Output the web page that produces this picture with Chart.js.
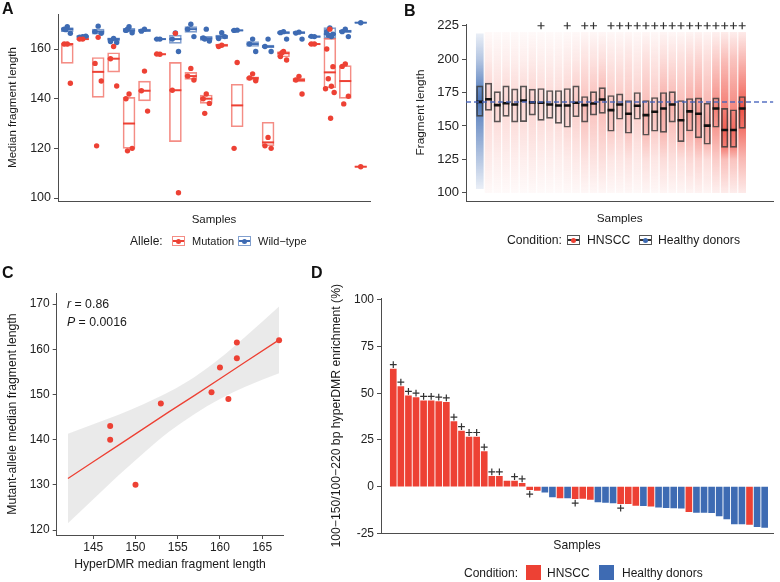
<!DOCTYPE html>
<html>
<head>
<meta charset="utf-8">
<title>Fragment length panels</title>
<script src="https://cdn.jsdelivr.net/npm/chart.js@4.4.1/dist/chart.umd.min.js"></script>
<style>
  html, body { margin: 0; padding: 0; background: #fff; }
  body { width: 780px; height: 582px; position: relative; overflow: hidden;
         font-family: "Liberation Sans", Arial, Helvetica, sans-serif; color: #1a1a1a; }
  canvas { position: absolute; }
  .tag { position: absolute; font-weight: bold; font-size: 16px; line-height: 16px; color: #111; }
  .txt { position: absolute; line-height: 16px; white-space: nowrap; }
  .boxkey { position: absolute; width: 13px; height: 10px; box-sizing: border-box; border: 1px solid; }
  .boxkey::before { content: ''; position: absolute; left: 0; right: 0; top: 3.3px; height: 1.5px; background: var(--line); }
  .boxkey::after { content: ''; position: absolute; left: 3px; top: 1.5px; width: 5px; height: 5px; border-radius: 50%; background: var(--dot); }
  .sq { position: absolute; width: 15px; height: 15px; }
</style>
</head>
<body>
<canvas id="chartA" width="390" height="227" style="left:0;top:0"></canvas>
<canvas id="chartB" width="390" height="227" style="left:390px;top:0"></canvas>
<canvas id="chartC" width="300" height="295" style="left:0;top:280px"></canvas>
<canvas id="chartD" width="480" height="302" style="left:300px;top:280px"></canvas>

<div class="tag" style="left:2px;top:1px">A</div>
<div class="tag" style="left:404px;top:3px">B</div>
<div class="tag" style="left:2px;top:265px">C</div>
<div class="tag" style="left:311px;top:265px">D</div>

<!-- legend A -->
<div class="txt" style="left:130px;top:233px;font-size:12px">Allele:</div>
<div class="boxkey" style="left:172px;top:236px;border-color:rgba(237,65,52,0.6);--line:#ED4134;--dot:#ED4134"></div>
<div class="txt" style="left:192px;top:233px;font-size:11px">Mutation</div>
<div class="boxkey" style="left:238px;top:236px;border-color:rgba(62,107,179,0.65);--line:#3E6BB3;--dot:#3E6BB3"></div>
<div class="txt" style="left:258px;top:233px;font-size:11px">Wild−type</div>

<!-- legend B -->
<div class="txt" style="left:507px;top:232px;font-size:12.2px">Condition:</div>
<div class="boxkey" style="left:567px;top:235px;border-color:#555;--line:#333;--dot:#ED4134"></div>
<div class="txt" style="left:587px;top:232px;font-size:12.2px">HNSCC</div>
<div class="boxkey" style="left:639px;top:235px;border-color:#555;--line:#333;--dot:#3E6BB3"></div>
<div class="txt" style="left:658px;top:232px;font-size:12.2px">Healthy donors</div>

<!-- panel C stats -->
<div class="txt" style="left:67px;top:296px;font-size:12.3px"><i>r</i> = 0.86</div>
<div class="txt" style="left:67px;top:314px;font-size:12.3px"><i>P</i> = 0.0016</div>

<!-- legend D -->
<div class="txt" style="left:464px;top:564.7px;font-size:12px">Condition:</div>
<div class="sq" style="left:526px;top:565px;background:#ED4134"></div>
<div class="txt" style="left:547px;top:564.7px;font-size:12px">HNSCC</div>
<div class="sq" style="left:599px;top:565px;background:#3E6BB3"></div>
<div class="txt" style="left:622px;top:564.7px;font-size:12px">Healthy donors</div>

<script>
// ---------- panel A: median fragment length per sample, by allele ----------
const samplesA = [1, 2, 3, 4, 5, 6, 7, 8, 9, 10, 11, 12, 13, 14, 15, 16, 17, 18, 19, 20];
const mutQ1  = [154.2, 163.8, 140.5, 150.7, 120, 139.1, 157.8, 122.7, 147.8, 138.1, 161, 128.7, 147.5, 121, 156.8, 146.8, 161.9, 144.4, 140.1, 112.5];
const mutMed = [162, 164, 150.8, 156.1, 130, 143.2, 157.9, 143.4, 149.1, 140, 161.5, 137.3, 148.3, 122.4, 158.3, 147.5, 162, 150.6, 147.1, 112.6];
const mutQ3  = [161.6, 164.3, 156.6, 158.5, 140.5, 147.1, 158.1, 154.6, 150.6, 141.5, 162, 145.8, 148.8, 130.5, 159, 148.3, 162.1, 164.3, 153.3, 112.7];
const mutPts = [[162, 162, 146.2], [164, 164], [164.7, 154.2, 147.1, 121], [161, 156.1, 145.1], [141.9, 140, 120, 119],
  [151.1, 143.2, 135], [157.9, 158], [166.3, 143.4, 102.1], [152.2, 149.1, 147.5], [141.9, 140, 138.1, 134.1],
  [161.5, 161], [154.6, 120], [150, 148.3, 147.2], [124.4, 121, 120], [159, 157, 155.6, 158.5],
  [149, 147.5, 141.9], [162, 162], [168, 160, 152.9, 148, 145, 144, 142.5, 132.1], [154, 153, 141, 137.9], [112.6]];
const wtQ1  = [167, 164.6, 166, 163.2, 166.8, 167, 163.9, 162.3, 166.7, 163.5, 164.2, 167.3, 161, 160.5, 166.1, 166.2, 164.7, 164.3, 166.6, 170.5];
const wtMed = [168, 165, 167, 164, 167.5, 167.5, 164, 164, 168, 164.3, 165, 167.5, 162, 161, 166.6, 166.6, 165, 166, 167.2, 170.6];
const wtQ3  = [168.6, 165.4, 168, 164.5, 168.3, 168, 164.1, 165.6, 169, 165.1, 165.6, 167.7, 163, 161.6, 167, 167, 165.3, 168.6, 167.6, 170.7];
const wtPts = [[169, 168, 166.3, 167.8], [165, 164.8, 165.2], [169.2, 167, 166.3], [164.3, 163, 162.6], [169, 167.5, 166.5, 168],
  [168, 167.2], [164, 164], [166.5, 164, 159], [170, 168, 165], [168, 164.5, 163.2, 164],
  [166.6, 164.2, 165], [167.6, 167.5], [164, 162, 159], [164, 161, 159], [167, 166.6, 164],
  [166.8, 166.4, 164], [165, 165.1], [168.5, 167, 166, 165.5, 165], [168, 167, 165], [170.6]];
const ticksA = [100, 120, 140, 160];

// ---------- panel B: fragment length distribution per sample ----------
const condB  = ['Healthy donors', 'HNSCC', 'HNSCC', 'HNSCC', 'HNSCC', 'HNSCC', 'HNSCC', 'HNSCC', 'HNSCC', 'HNSCC', 'HNSCC',
  'HNSCC', 'HNSCC', 'HNSCC', 'HNSCC', 'HNSCC', 'HNSCC', 'HNSCC', 'HNSCC', 'HNSCC', 'HNSCC',
  'HNSCC', 'HNSCC', 'HNSCC', 'HNSCC', 'HNSCC', 'HNSCC', 'HNSCC', 'HNSCC', 'HNSCC', 'HNSCC'];
const q1B  = [157.1, 161.6, 152.9, 157.1, 152.9, 153.2, 158.1, 154.2, 155.6, 151.9, 149.0, 156.9, 152.9, 158.1, 159.4, 146.0,
  155.0, 144.5, 155.0, 143.0, 146.0, 145.2, 152.9, 138.3, 146.2, 141.0, 136.3, 149.0, 134.0, 134.0, 148.2];
const medB = [168, 170, 165.6, 167, 166, 169, 167.6, 167.3, 166, 165.3, 165.3, 167.3, 165.6, 166.8, 169.8, 161.8,
  166, 159.1, 165.1, 158.1, 160.6, 163.1, 166, 154.2, 160.9, 159.1, 150.2, 163.1, 147, 147, 163.1];
const q3B  = [180, 182, 175.7, 180, 177.7, 180, 177.5, 178, 176.5, 176.5, 178, 180, 172, 175.7, 178.7, 172.8,
  174, 169, 175, 169, 171.3, 175, 175.7, 169, 170.5, 171, 167, 171, 163.1, 162.1, 172];
// relative number of fragments (visual density of the jittered reads)
const densityB = [1.0, 0.35, 0.3, 0.3, 0.3, 0.3, 0.35, 0.3, 0.3, 0.3, 0.35, 0.4, 0.5, 0.5, 0.55, 0.45,
  0.45, 0.5, 0.4, 0.55, 0.45, 0.6, 0.55, 0.55, 0.65, 0.7, 0.6, 0.8, 0.95, 0.9, 1.0];
const sigB = [false, false, false, false, false, false, false, true, false, false, true, false, true, true, false, true,
  true, true, true, true, true, true, true, true, true, true, true, true, true, true, true];
const readRangeHN = [100, 220];
const readRangeHD = [103, 219];
const healthyMedian = 168;
const ticksB = [100, 125, 150, 175, 200, 225];

// ---------- panel C: mutant-allele vs hyperDMR median ----------
const hyperX = [147, 147, 150, 153, 159, 160, 161, 162, 162, 167];
const mutantY = [143, 140, 130, 148, 150.5, 156, 149, 158, 161.5, 162];
const fitX = [142, 145, 148, 151, 154, 157, 160, 163, 167];
const fitY = [131.4, 135.1, 138.8, 142.5, 146.2, 149.8, 153.5, 157.2, 162.1];
const ciLow  = [121.5, 126.8, 132.1, 137.1, 141.8, 145.7, 149.0, 151.7, 154.7];
const ciHigh = [141.3, 143.4, 145.5, 147.9, 150.6, 153.9, 158.0, 162.8, 169.5];
const ticksCx = [145, 150, 155, 160, 165];
const ticksCy = [120, 130, 140, 150, 160, 170];

// ---------- panel D: hyperDMR short-fragment enrichment ----------
const enrich = [63, 53.6, 48.6, 47.7, 46, 45.9, 45.5, 45.2, 34.8, 29.8, 26.6, 26.6, 18.75, 5.5, 5.5, 3, 3, 1.8,
  -1.6, -2, -3, -5.5, -6, -6.1, -6.4, -6.25, -6.8, -8.2, -8.4, -8.75, -9.1, -9.1, -10, -10.2, -10.5,
  -11, -11.3, -11.4, -11.6, -13.4, -13.75, -13.75, -13.9, -15.7, -17.3, -20, -20, -20.2, -21.4, -21.8];
const condD = ['HNSCC', 'HNSCC', 'HNSCC', 'HNSCC', 'HNSCC', 'HNSCC', 'HNSCC', 'HNSCC', 'HNSCC', 'HNSCC',
  'HNSCC', 'HNSCC', 'HNSCC', 'HNSCC', 'HNSCC', 'HNSCC', 'HNSCC', 'HNSCC', 'HNSCC', 'HNSCC',
  'Healthy donors', 'Healthy donors', 'HNSCC', 'Healthy donors', 'HNSCC', 'HNSCC', 'HNSCC', 'Healthy donors', 'Healthy donors', 'Healthy donors',
  'HNSCC', 'HNSCC', 'HNSCC', 'Healthy donors', 'HNSCC', 'Healthy donors', 'Healthy donors', 'Healthy donors', 'Healthy donors', 'HNSCC',
  'Healthy donors', 'Healthy donors', 'Healthy donors', 'Healthy donors', 'Healthy donors', 'Healthy donors', 'Healthy donors', 'HNSCC', 'Healthy donors', 'Healthy donors'];
const sigD = [true, true, true, true, true, true, true, true, true, true, true, true, true, true, true, false, true, true, true, false,
  false, false, false, false, true, false, false, false, false, false, true, false, false, false, false, false, false, false, false, false,
  false, false, false, false, false, false, false, false, false, false];
const ticksD = [-25, 0, 25, 50, 75, 100];

// ---------- shared look ----------
const RED = '#ED4134', BLUE = '#3E6BB3', AXIS = '#4d4d4d';
Chart.defaults.font.family = '"Liberation Sans", Arial, Helvetica, sans-serif';
Chart.defaults.color = '#222';
Chart.defaults.animation = false;
Chart.defaults.events = [];
Chart.defaults.plugins.legend.display = false;
Chart.defaults.plugins.tooltip.enabled = false;

function yAxis(min, max, ticks, title, width, titlePad, tickSize, titleSize) {
  return {
    type: 'linear', min: min, max: max,
    afterBuildTicks: a => { a.ticks = ticks.map(v => ({ value: v })); },
    afterFit: s => { s.width = width; },
    border: { color: AXIS, width: 1 },
    grid: { drawOnChartArea: false, drawTicks: true, tickLength: 4, tickColor: AXIS, color: AXIS },
    ticks: { padding: 3, color: '#222', font: { size: tickSize } },
    title: { display: true, text: title, color: '#1a1a1a', font: { size: titleSize }, padding: { top: titlePad, bottom: 0 } }
  };
}
function sampleAxis(min, max, height, titlePad, titleSize) {
  return {
    type: 'linear', min: min, max: max, offset: false,
    afterFit: s => { s.height = height; },
    border: { color: AXIS, width: 1 },
    grid: { display: false, drawTicks: false },
    ticks: { display: false },
    title: { display: true, text: 'Samples', color: '#1a1a1a', font: { size: titleSize }, padding: { top: 0, bottom: titlePad } }
  };
}

// ---------- A ----------
const jitter = [0, -0.2, 0.2, -0.1, 0.1, -0.28, 0.28, 0.05];
const boxes = (lo, hi) => samplesA.map((s, i) => ({ x: s, y: [lo[i], hi[i]] }));
const meds = m => samplesA.map((s, i) => ({ x: s, y: m[i] }));
function dots(pts) {
  const out = [];
  pts.forEach((arr, i) => arr.forEach((v, k) => out.push({ x: samplesA[i] + jitter[k % jitter.length], y: v })));
  return out;
}
const boxStyle = { type: 'bar', barThickness: 12, grouped: false, borderSkipped: false, borderWidth: 1, backgroundColor: 'rgba(255,255,255,0)' };

new Chart(document.getElementById('chartA'), {
  type: 'bar',
  data: {
    datasets: [
      Object.assign({ label: 'Wild-type box', data: boxes(wtQ1, wtQ3), borderColor: 'rgba(62,107,179,0.65)', order: 5 }, boxStyle),
      Object.assign({ label: 'Mutation box', data: boxes(mutQ1, mutQ3), borderColor: 'rgba(237,65,52,0.6)', order: 4 }, boxStyle),
      { type: 'scatter', label: 'Wild-type median', data: meds(wtMed), pointStyle: 'line', pointRadius: 6, borderWidth: 2, borderColor: BLUE, order: 3 },
      { type: 'scatter', label: 'Mutation median', data: meds(mutMed), pointStyle: 'line', pointRadius: 6, borderWidth: 2, borderColor: RED, order: 2 },
      { type: 'scatter', label: 'Wild-type', data: dots(wtPts), pointRadius: 2.7, borderWidth: 0, backgroundColor: BLUE, order: 1 },
      { type: 'scatter', label: 'Mutation', data: dots(mutPts), pointRadius: 2.7, borderWidth: 0, backgroundColor: RED, order: 0 }
    ]
  },
  options: {
    responsive: false, devicePixelRatio: 1,
    layout: { padding: { top: 14, right: 20, bottom: 0, left: 0 } },
    scales: {
      x: sampleAxis(0.4, 20.6, 26, 0.6, 11.5),
      y: yAxis(98.8, 174.1, ticksA, 'Median fragment length', 58, 6.1, 12.5, 11.5)
    }
  }
});

// ---------- B ----------
const xB = condB.map((c, i) => i + 1);
function readCloud(ctx) {
  const chart = ctx.chart, i = ctx.dataIndex;
  if (!chart.chartArea || i === undefined) return 'rgba(0,0,0,0)';
  const y = chart.scales.y;
  const healthy = condB[i] === 'Healthy donors';
  const lo = healthy ? readRangeHD[0] : readRangeHN[0];
  const hi = healthy ? readRangeHD[1] : readRangeHN[1];
  const g = chart.ctx.createLinearGradient(0, y.getPixelForValue(hi), 0, y.getPixelForValue(lo));
  const rgb = healthy ? '62,107,179' : '238,62,48';
  const a = healthy ? 0.95 : 0.1 + 0.8 * Math.pow(densityB[i], 1.6);
  const stop = (v, rel) => g.addColorStop(Math.min(1, Math.max(0, (hi - v) / (hi - lo))), 'rgba(' + rgb + ',' + (a * rel).toFixed(3) + ')');
  stop(hi, 0.12); stop(200, 0.4); stop(q3B[i], 0.8); stop(medB[i], 1); stop(q1B[i], 0.8); stop(125, 0.4); stop(lo, 0.12);
  return g;
}
const bMin = -0.577, bMax = 34.57;

new Chart(document.getElementById('chartB'), {
  type: 'bar',
  data: {
    datasets: [
      { type: 'bar', label: 'reads', data: xB.map((x, i) => ({ x: x, y: condB[i] === 'Healthy donors' ? readRangeHD : readRangeHN })),
        barThickness: 7, grouped: false, borderWidth: 0, backgroundColor: readCloud, order: 6 },
      { type: 'bar', label: 'IQR', data: xB.map((x, i) => ({ x: x, y: [q1B[i], q3B[i]] })),
        barThickness: 6.5, grouped: false, borderSkipped: false, borderWidth: 1, borderColor: 'rgba(60,60,60,0.85)',
        backgroundColor: 'rgba(255,255,255,0)', order: 4 },
      { type: 'scatter', label: 'median', data: xB.map((x, i) => ({ x: x, y: medB[i] })),
        pointStyle: 'line', pointRadius: 3.4, borderWidth: 2.6, borderColor: '#111', order: 3 },
      { type: 'line', label: 'healthy median', data: [{ x: bMin, y: healthyMedian }, { x: bMax, y: healthyMedian }],
        borderColor: 'rgba(70,100,190,0.9)', borderDash: [5, 3], borderWidth: 1.5, pointRadius: 0, order: 1 },
      { type: 'scatter', label: 'significant', data: xB.filter((x, i) => sigB[i]).map(x => ({ x: x, y: 225 })),
        pointStyle: 'cross', pointRadius: 3.5, borderWidth: 1.2, borderColor: '#333', clip: false, order: 0 }
    ]
  },
  options: {
    responsive: false, devicePixelRatio: 1,
    layout: { padding: { top: 24, right: 2, bottom: 0, left: 0 } },
    scales: {
      x: sampleAxis(bMin, bMax, 26, 0.9, 11.8),
      y: yAxis(93.8, 226.3, ticksB, 'Fragment length', 76, 23.9, 13, 11.8)
    }
  }
});

// ---------- C ----------
const cY = yAxis(118.9, 172.4, ticksCy, 'Mutant-allele median fragment length', 56.7, 5.7, 12, 12.2);
new Chart(document.getElementById('chartC'), {
  type: 'scatter',
  data: {
    datasets: [
      { type: 'line', label: 'ci high', data: fitX.map((x, i) => ({ x: x, y: ciHigh[i] })), borderWidth: 0, pointRadius: 0,
        fill: '+1', backgroundColor: 'rgba(200,200,200,0.38)', cubicInterpolationMode: 'monotone', order: 3 },
      { type: 'line', label: 'ci low', data: fitX.map((x, i) => ({ x: x, y: ciLow[i] })), borderWidth: 0, pointRadius: 0,
        fill: false, cubicInterpolationMode: 'monotone', order: 3 },
      { type: 'line', label: 'fit', data: fitX.map((x, i) => ({ x: x, y: fitY[i] })), borderColor: RED, borderWidth: 1.3,
        pointRadius: 0, fill: false, order: 2 },
      { type: 'scatter', label: 'samples', data: hyperX.map((x, i) => ({ x: x, y: mutantY[i] })), pointRadius: 3,
        borderWidth: 0, backgroundColor: RED, order: 1 }
    ]
  },
  options: {
    responsive: false, devicePixelRatio: 1,
    layout: { padding: { top: 13.3, right: 16.7, bottom: 0, left: 0 } },
    scales: {
      x: {
        type: 'linear', min: 140.67, max: 167.5,
        afterBuildTicks: a => { a.ticks = ticksCx.map(v => ({ value: v })); },
        afterFit: s => { s.height = 40; },
        border: { color: AXIS, width: 1 },
        grid: { drawOnChartArea: false, drawTicks: true, tickLength: 4, tickColor: AXIS, color: AXIS },
        ticks: { padding: 1, color: '#222', font: { size: 12 }, maxRotation: 0 },
        title: { display: true, text: 'HyperDMR median fragment length', color: '#1a1a1a', font: { size: 12.2 }, padding: { top: 0, bottom: 2.7 } }
      },
      y: cY
    }
  }
});

// ---------- D ----------
const xD = enrich.map((v, i) => i + 1);
new Chart(document.getElementById('chartD'), {
  type: 'bar',
  data: {
    datasets: [
      { type: 'bar', label: 'enrichment', data: xD.map((x, i) => ({ x: x, y: enrich[i] })),
        backgroundColor: condD.map(c => c === 'HNSCC' ? RED : BLUE), barThickness: 6, borderWidth: 0, order: 2 },
      { type: 'scatter', label: 'significant', data: xD.filter((x, i) => sigD[i]).map(x => {
          const v = enrich[x - 1];
          return { x: x, y: v >= 0 ? v + 2.4 : v - 2.4 };
        }),
        pointStyle: 'cross', pointRadius: 3.4, borderWidth: 1.2, borderColor: '#333', clip: false, order: 1 }
    ]
  },
  options: {
    responsive: false, devicePixelRatio: 1,
    layout: { padding: { top: 18.1, right: 7, bottom: 0, left: 0 } },
    scales: {
      x: sampleAxis(-0.62, 51.1, 48.7, 29.5, 12.2),
      y: yAxis(-25, 101, ticksD, '100−150/100−220 bp hyperDMR enrichment (%)', 81, 29.4, 12, 12.2)
    }
  }
});
</script>
</body>
</html>
